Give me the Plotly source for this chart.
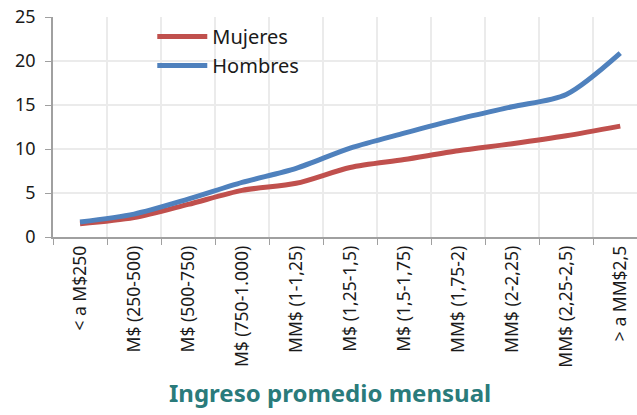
import plotly.graph_objects as go

categories = ["< a M$250", "M$ (250-500)", "M$ (500-750)", "M$ (750-1.000)",
              "MM$ (1-1,25)", "M$ (1,25-1,5)", "M$ (1,5-1,75)", "MM$ (1,75-2)",
              "MM$ (2-2,25)", "MM$ (2,25-2,5)", "> a MM$2,5"]
mujeres = [1.5, 2.2, 3.7, 5.3, 6.1, 7.9, 8.8, 9.8, 10.6, 11.5, 12.6]
hombres = [1.7, 2.6, 4.3, 6.2, 7.8, 10.1, 11.8, 13.4, 14.8, 16.2, 20.9]

fig = go.Figure()
fig.add_trace(go.Scatter(x=categories, y=mujeres, name="Mujeres", mode="lines",
                         line=dict(color="#C0504D", width=5, shape="spline", smoothing=0.8)))
fig.add_trace(go.Scatter(x=categories, y=hombres, name="Hombres", mode="lines",
                         line=dict(color="#4F81BD", width=5, shape="spline", smoothing=0.8)))

fig.add_annotation(text="<b>Ingreso promedio mensual</b>", xref="paper", yref="paper",
                   x=0.474, y=-0.709, xanchor="center", yanchor="middle", showarrow=False,
                   font=dict(size=24, color="#2A7B7B"))

fig.update_layout(
    width=637, height=415,
    margin=dict(l=53, r=0, t=17, b=178),
    plot_bgcolor="white", paper_bgcolor="white",
    font=dict(family="Noto Sans", color="#1a1a1a"),
    showlegend=True,
    legend=dict(x=0.17, y=1.0, xanchor="left", yanchor="top",
                bgcolor="rgba(0,0,0,0)", font=dict(size=20), tracegroupgap=0,
                itemwidth=50),
    xaxis=dict(
        type="category", range=[-0.5, 10.31], tickson="boundaries",
        showgrid=True, gridcolor="#EBEBEB", gridwidth=1.5,
        showline=True, linecolor="#A0A0A0", linewidth=1.5,
        ticks="outside", ticklen=6, tickcolor="#A0A0A0",
        tickangle=-90, tickfont=dict(size=17.5),
    ),
    yaxis=dict(
        range=[0, 25], dtick=5,
        showgrid=True, gridcolor="#EBEBEB", gridwidth=1.5,
        showline=True, linecolor="#A0A0A0", linewidth=1.5,
        ticks="outside", ticklen=6, tickcolor="#A0A0A0",
        tickfont=dict(size=18), zeroline=False, ticklabelstandoff=6,
    ),
)

fig.write_html("out.html", config={"displayModeBar": False},
               post_script="document.body.style.margin='0';")
